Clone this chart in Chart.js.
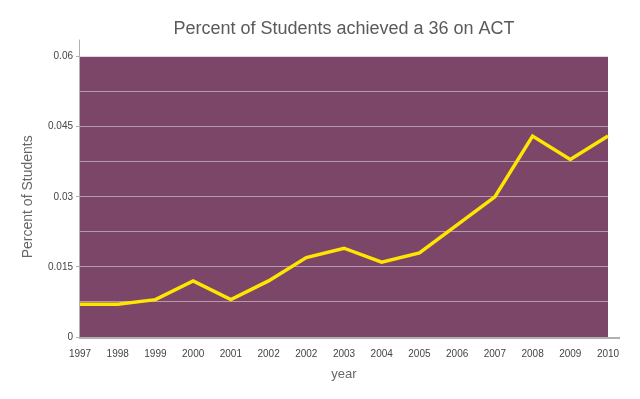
<!DOCTYPE html>
<html>
<head>
<meta charset="utf-8">
<script src="https://cdn.jsdelivr.net/npm/chart.js@4/dist/chart.umd.min.js"></script>
<style>
  html, body { margin: 0; padding: 0; background: #fff; }
  #wrap { width: 640px; height: 399px; }
</style>
</head>
<body>
<div id="wrap"><canvas id="actChart"></canvas></div>
<script>
// chart data
const years = ["1997", "1998", "1999", "2000", "2001", "2002", "2002", "2003",
               "2004", "2005", "2006", "2007", "2008", "2009", "2010"];
const percentOf36 = [0.007, 0.007, 0.008, 0.012, 0.008, 0.012, 0.017, 0.019,
                     0.016, 0.018, 0.024, 0.030, 0.043, 0.038, 0.043];
const yMax = 0.06;
const yStep = 0.0075;
const labelStep = 0.015;

// purple plot background + the long gray axis lines
const plotFrame = {
    id: "plotFrame",
    beforeDraw(chart) {
        const { ctx, chartArea: a } = chart;
        ctx.save();
        ctx.fillStyle = "#7c4669";
        ctx.fillRect(a.left, a.top, a.right - a.left, a.bottom - a.top);
        ctx.restore();
    },
    afterDraw(chart) {
        const { ctx, chartArea: a } = chart;
        ctx.save();
        ctx.strokeStyle = "#b0b0b0";
        ctx.lineWidth = 1;
        ctx.beginPath();
        ctx.moveTo(a.left - 0.5, a.top - 17);
        ctx.lineTo(a.left - 0.5, a.bottom);
        ctx.stroke();
        ctx.lineWidth = 2;
        ctx.beginPath();
        ctx.moveTo(a.left - 1, a.bottom + 1);
        ctx.lineTo(a.right + 12, a.bottom + 1);
        ctx.stroke();
        ctx.restore();
    }
};

const isLabelTick = v => Math.abs(v / labelStep - Math.round(v / labelStep)) < 1e-6;

new Chart(document.getElementById("actChart"), {
    type: "line",
    data: {
        labels: years,
        datasets: [{
            label: "Percent of Students",
            data: percentOf36,
            borderColor: "#ffe600",
            borderWidth: 3.5,
            pointRadius: 0,
            tension: 0,
            fill: false,
        }],
    },
    options: {
        responsive: true,
        maintainAspectRatio: false,
        animation: false,
        layout: { padding: { left: 0, right: 32, top: 0, bottom: 0 } },
        plugins: {
            legend: { display: false },
            tooltip: { enabled: false },
            title: {
                display: true,
                fullSize: false,
                text: "Percent of Students achieved a 36 on ACT",
                color: "#5a5a5a",
                font: { family: "Liberation Sans", size: 18, weight: "normal" },
                padding: { top: 18, bottom: 17 },
            },
        },
        scales: {
            x: {
                offset: false,
                grid: { display: false, drawTicks: false },
                border: { display: false },
                ticks: {
                    color: "#444444",
                    font: { family: "Liberation Sans", size: 10 },
                    maxRotation: 0,
                    autoSkip: false,
                    padding: 11,
                },
                title: {
                    display: true,
                    text: "year",
                    color: "#666666",
                    font: { family: "Liberation Sans", size: 13 },
                    padding: { top: 0, bottom: 17 },
                },
                afterFit(scale) { scale.height = 62; },
            },
            y: {
                min: 0,
                max: yMax,
                grid: {
                    color: ctx => ctx.tick && ctx.tick.value === 0 ? "rgba(0,0,0,0)" : "rgba(255,255,255,0.45)",
                    tickColor: ctx => isLabelTick(ctx.tick.value) ? "#b0b0b0" : "rgba(0,0,0,0)",
                    tickLength: 4,
                },
                border: { display: false },
                ticks: {
                    stepSize: yStep,
                    color: "#444444",
                    font: { family: "Liberation Sans", size: 10 },
                    padding: 3,
                    callback: v => isLabelTick(v) ? String(+v.toFixed(4)) : "",
                },
                title: {
                    display: true,
                    text: "Percent of Students",
                    color: "#666666",
                    font: { family: "Liberation Sans", size: 14 },
                    padding: { top: 20, bottom: 0 },
                },
                afterFit(scale) { scale.width = 80; },
            },
        },
    },
    plugins: [plotFrame],
});
</script>
</body>
</html>
